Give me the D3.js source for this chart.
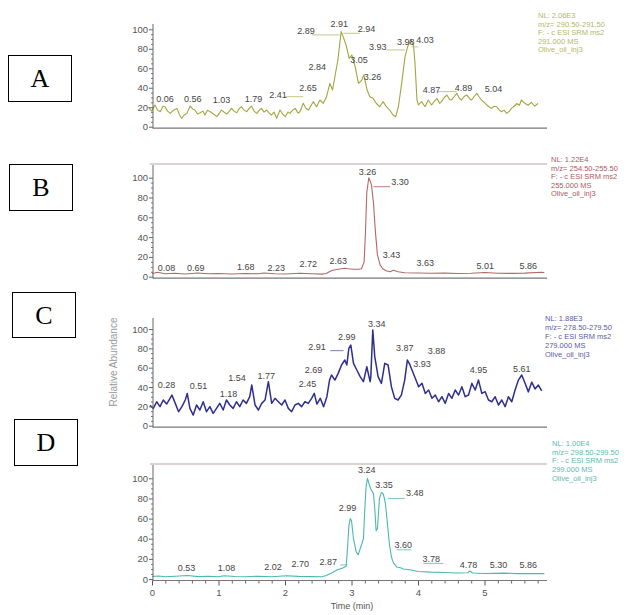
<!DOCTYPE html>
<html><head><meta charset="utf-8">
<script src="https://cdn.jsdelivr.net/npm/d3@7/dist/d3.min.js"></script>
<style>body{margin:0;background:#fff}svg{display:block}</style>
</head><body><svg id="chart" width="636" height="615"></svg>
<script>
// ---------- DATA ----------
const panelLetters = ["A", "B", "C", "D"];
const yTickValues = [0, 20, 40, 60, 80, 100];
const xTickValues = [0, 1, 2, 3, 4, 5];
const xAxisTitle = "Time (min)";
const yAxisTitle = "Relative Abundance";

// trace A : [time (min), relative abundance]
const traceA = [[0.02,20],[0.07,16],[0.12,22.3],[0.16,17],[0.2,15.4],[0.24,21],[0.27,20.5],[0.31,16],[0.35,13.7],[0.4,17],[0.45,18.8],[0.49,12],[0.52,8.6],[0.56,12],[0.6,13.7],[0.65,21.2],[0.69,18],[0.72,17.1],[0.76,13],[0.8,14.4],[0.84,16],[0.87,12],[0.91,17],[0.95,15.4],[1.0,13],[1.05,10.3],[1.09,14],[1.12,17.1],[1.16,15],[1.2,13],[1.24,16],[1.27,18.8],[1.31,16],[1.35,14.4],[1.39,19],[1.42,20.5],[1.46,17],[1.5,15.4],[1.54,19],[1.57,21.2],[1.61,16],[1.65,13.7],[1.69,17],[1.72,18.8],[1.76,15],[1.8,17.1],[1.84,14],[1.87,12],[1.91,15],[1.95,8.6],[2.0,17.1],[2.04,13],[2.08,10.3],[2.12,15],[2.15,13.7],[2.19,17],[2.23,18.8],[2.27,14],[2.3,15.4],[2.35,24],[2.39,19],[2.43,17.1],[2.47,22],[2.5,25.7],[2.55,20.5],[2.6,27.4],[2.65,24],[2.7,30.8],[2.75,44.5],[2.79,37.7],[2.83,53.1],[2.87,68.5],[2.92,97.6],[2.95,92.5],[3.0,82.2],[3.04,70.2],[3.08,73.6],[3.13,61.6],[3.18,44.5],[3.23,47.9],[3.26,53.1],[3.31,37.7],[3.35,30.8],[3.4,29.1],[3.45,23.8],[3.5,20.5],[3.55,25.7],[3.6,20.5],[3.65,17.1],[3.7,12],[3.74,10.3],[3.78,20.5],[3.83,44.5],[3.88,71.9],[3.92,82.2],[3.97,89.7],[4.01,82.2],[4.03,65.1],[4.06,27.4],[4.08,22.3],[4.13,25.7],[4.18,20.5],[4.23,27.4],[4.28,22.3],[4.32,26],[4.36,29.1],[4.4,24],[4.43,25.7],[4.47,30],[4.51,32.5],[4.55,28],[4.58,27.4],[4.62,31],[4.66,34.2],[4.7,29],[4.73,27.4],[4.77,31],[4.81,32.5],[4.85,29],[4.88,27.4],[4.92,31],[4.96,34.2],[5.0,30],[5.03,27.4],[5.07,25],[5.11,22.3],[5.15,20],[5.18,18.8],[5.22,21],[5.26,20.5],[5.3,17],[5.33,15.4],[5.37,17],[5.41,13.7],[5.45,16],[5.48,18.8],[5.52,21],[5.56,23.8],[5.6,22],[5.63,27.4],[5.68,24],[5.73,22],[5.78,25],[5.83,21],[5.88,24]];
const peaksA = [["0.06",0.27,29],["0.56",0.69,29],["1.03",1.12,27.4],["1.79",1.6,28.4],["2.41",1.97,33.2],["2.65",2.42,39.4],["2.84",2.56,61.6],["2.89",2.39,98.3],["2.91",2.89,106],["2.94",3.3,100],["3.05",3.19,68.5],["3.26",3.39,51.4],["3.93",3.47,82.2],["3.98",3.89,87.3],["4.03",4.18,89],["4.87",4.28,37.7],["4.89",4.76,40.4],["5.04",5.21,38.4]];
const leadersA = [[2.48,2.9,94.2],[2.95,3.2,95.9],[3.6,3.88,78.8],[3.98,4.08,82],[2.08,2.35,30.8],[4.38,4.66,36]];
const legendA = ["NL: 2.06E3","m/z= 290.50-291.50","F: - c ESI SRM ms2","291.000  MS","Olive_oil_inj3"];

// trace B
const traceB = [[0.0,3],[0.08,4.5],[0.2,3],[0.35,3.5],[0.5,2.8],[0.69,3.8],[0.85,3],[1.0,3.2],[1.2,2.8],[1.4,3.3],[1.6,3],[1.68,3.8],[1.85,3],[2.0,2.8],[2.23,3.5],[2.4,3],[2.55,2.6],[2.62,3.2],[2.68,5.5],[2.72,6.5],[2.8,7.5],[2.9,8.5],[2.95,8],[3.03,7.5],[3.1,7.6],[3.15,8],[3.19,15],[3.21,45],[3.23,85],[3.26,100],[3.3,93],[3.33,75],[3.36,45],[3.39,22],[3.43,12],[3.47,8],[3.52,6],[3.58,5],[3.63,6.5],[3.7,5],[3.8,4],[4.0,3.8],[4.2,3.5],[4.4,3.6],[4.6,3.3],[4.8,3.5],[5.01,4.2],[5.2,3.5],[5.4,3.4],[5.6,3.6],[5.86,4.5],[5.9,4.2]];
const peaksB = [["0.08",0.22,9.1],["0.69",0.66,9.1],["1.68",1.41,9.8],["2.23",1.87,9.1],["2.72",2.35,12.8],["2.63",2.8,16.2],["3.26",3.24,106],["3.30",3.73,96],["3.43",3.6,21.9],["3.63",4.11,13.5],["5.01",5.01,10.8],["5.86",5.66,10.8]];
const leadersB = [[3.33,3.58,90.9]];
const legendB = ["NL: 1.22E4","m/z= 254.50-255.50","F: - c ESI SRM ms2","255.000  MS","Olive_oil_inj3"];

// trace C
const traceC = [[0.0,21],[0.05,17.9],[0.1,24.8],[0.15,19.7],[0.2,26.6],[0.25,22.4],[0.29,27],[0.33,31.7],[0.38,23.1],[0.43,14.5],[0.48,19.7],[0.53,26.6],[0.56,33.4],[0.6,17.9],[0.65,11],[0.7,21.4],[0.75,16.2],[0.8,24.8],[0.85,14.5],[0.9,19.7],[0.95,12.8],[1.0,17.9],[1.05,23.1],[1.1,16.2],[1.15,26.6],[1.2,21.4],[1.25,17.9],[1.3,24.8],[1.35,19.7],[1.4,26.6],[1.45,23.1],[1.5,30],[1.53,42.1],[1.58,21.4],[1.63,16.2],[1.68,23.1],[1.73,26.6],[1.76,38],[1.78,45.5],[1.83,23.1],[1.88,28.3],[1.93,24.8],[1.98,21.4],[2.03,26.6],[2.08,17.9],[2.13,14.5],[2.18,21.4],[2.23,23.1],[2.28,19.7],[2.33,24.8],[2.38,23.1],[2.43,28.3],[2.47,33.4],[2.51,22.4],[2.56,28.3],[2.61,19.7],[2.66,30],[2.7,47.2],[2.73,52.4],[2.78,47.2],[2.83,54.1],[2.88,62.8],[2.93,67.9],[2.96,62.8],[2.99,80],[3.02,83.4],[3.06,64.5],[3.11,57.6],[3.16,50.7],[3.21,45.5],[3.26,61],[3.31,45.5],[3.32,50],[3.35,99],[3.38,71.4],[3.43,50.7],[3.48,43.8],[3.53,64.5],[3.58,62.8],[3.63,40.3],[3.68,28.3],[3.73,26.6],[3.78,31.7],[3.83,47.2],[3.87,67.9],[3.91,62.8],[3.98,50.7],[4.04,40.3],[4.09,43.8],[4.14,33.4],[4.19,36.9],[4.24,28.3],[4.29,31.7],[4.34,24.8],[4.39,30],[4.44,23.1],[4.49,33.4],[4.54,28.3],[4.59,36.9],[4.64,31.7],[4.69,40.3],[4.74,30],[4.79,31.7],[4.84,43.8],[4.89,36.9],[4.94,47.2],[4.99,33.4],[5.04,35.2],[5.09,26.6],[5.14,24.8],[5.19,30],[5.24,21.4],[5.29,26.6],[5.34,19.7],[5.39,30],[5.44,24.8],[5.49,36.9],[5.54,47.2],[5.59,52.4],[5.64,43.8],[5.69,35],[5.74,45],[5.79,38],[5.84,42],[5.89,36]];
const peaksC = [["0.28",0.25,42],["0.51",0.73,41],["1.18",1.18,33],["1.54",1.31,50],["1.77",1.75,52],["2.45",2.37,43],["2.69",2.46,58],["2.91",2.51,82],["2.99",2.96,92],["3.34",3.41,105],["3.87",3.83,80],["3.93",4.09,64],["3.88",4.31,77],["4.95",4.94,58],["5.61",5.59,59]];
const leadersC = [[2.71,2.91,77.6]];
const legendC = ["NL: 1.88E3","m/z= 278.50-279.50","F: - c ESI SRM ms2","279.000  MS","Olive_oil_inj3"];

// trace D
const traceD = [[0.0,2.5],[0.1,3],[0.2,2.2],[0.35,2.8],[0.53,3.5],[0.7,2.4],[0.85,2.8],[1.0,2.2],[1.08,3.2],[1.25,2.5],[1.4,2.3],[1.6,2.8],[1.8,2.3],[2.02,3.2],[2.2,2.6],[2.4,2.4],[2.55,2.2],[2.62,3.5],[2.7,6],[2.78,9],[2.87,11],[2.92,13],[2.94,30],[2.96,52],[2.98,60],[3.0,58],[3.03,40],[3.07,27],[3.1,24],[3.13,30],[3.16,36],[3.18,40],[3.2,70],[3.22,92],[3.24,100],[3.27,93],[3.3,88],[3.33,85],[3.35,70],[3.37,48],[3.39,50],[3.42,80],[3.45,86],[3.48,84],[3.51,75],[3.54,55],[3.57,35],[3.6,22],[3.63,16],[3.68,12],[3.75,11],[3.78,10],[3.9,9],[4.0,7.5],[4.2,6.8],[4.4,6.5],[4.6,6],[4.75,6.2],[4.78,8],[4.82,6],[5.0,5.5],[5.3,5.8],[5.5,5.3],[5.86,5.5],[5.9,5.3]];
const peaksD = [["0.53",0.52,10.6],["1.08",1.12,10.6],["2.02",1.82,12],["2.70",2.23,15.5],["2.87",2.65,17],["2.99",2.94,71],["3.24",3.23,108],["3.35",3.49,93],["3.48",3.95,86],["3.60",3.78,34],["3.78",4.2,20.5],["4.78",4.76,14],["5.30",5.21,14],["5.86",5.66,14]];
const leadersD = [[2.83,2.94,14],[3.55,3.8,80],[3.68,3.9,29],[4.08,4.38,15.5]];
const legendD = ["NL: 1.00E4","m/z= 298.50-299.50","F: - c ESI SRM ms2","299.000  MS","Olive_oil_inj3"];

// ---------- LAYOUT / STYLE ----------
const svg = d3.select("#chart");
const font = "'Liberation Sans', Arial, sans-serif";
const panels = [
  {trace: traceA, peaks: peaksA, leaders: leadersA, legend: legendA, color: "#a2a63e", legColor: "#b4b86a", lw: 1.1,
   x0: 147, y0: 126.7, y100: 29.3, axisTop: 24, frame: false, box: [8, 55, 63, 46], legX: 538, legY: 18, legDy: 8.6},
  {trace: traceB, peaks: peaksB, leaders: leadersB, legend: legendB, color: "#b26868", legColor: "#b0585e", lw: 1.1,
   x0: 152, y0: 276.7, y100: 177.7, axisTop: 165, frame: true, box: [9, 164, 63, 46], legX: 551, legY: 162, legDy: 8.6},
  {trace: traceC, peaks: peaksC, leaders: leadersC, legend: legendC, color: "#2e2e8c", legColor: "#5a5aa8", lw: 1.5,
   x0: 150, y0: 425.7, y100: 329, axisTop: 318, frame: false, box: [12, 292, 63, 45], legX: 545, legY: 321, legDy: 9.1},
  {trace: traceD, peaks: peaksD, leaders: leadersD, legend: legendD, color: "#4cb8ae", legColor: "#5cbab0", lw: 1.1,
   x0: 152, y0: 579, y100: 478.3, axisTop: 465, frame: true, box: [14, 419, 63, 46], legX: 552, legY: 446, legDy: 8.7}
];
const pxPerMin = 66.5, xMax = 5.9, axisX = 153, rightEdge = 547;

panels.forEach((p, i) => {
  const x = d3.scaleLinear().domain([0, xMax]).range([p.x0, p.x0 + xMax * pxPerMin]);
  const y = d3.scaleLinear().domain([0, 100]).range([p.y0, p.y100]);
  const g = svg.append("g");

  // letter box
  g.append("rect").attr("x", p.box[0] + 0.5).attr("y", p.box[1] + 0.5).attr("width", p.box[2]).attr("height", p.box[3])
    .attr("fill", "#fff").attr("stroke", "#000").attr("stroke-width", 1);
  g.append("text").attr("x", p.box[0] + p.box[2] / 2 + 0.5).attr("y", p.box[1] + p.box[3] / 2 + 9)
    .attr("text-anchor", "middle").attr("font-family", "'Liberation Serif', 'Times New Roman', serif")
    .attr("font-size", 26).attr("fill", "#000").text(panelLetters[i]);

  // top frame
  if (p.frame) {
    g.append("line").attr("x1", axisX - 3).attr("x2", rightEdge).attr("y1", p.axisTop - 1).attr("y2", p.axisTop - 1)
      .attr("stroke", "#b8a8a8").attr("stroke-width", 1.2);
  }

  // trace
  const line = d3.line().x(d => x(d[0])).y(d => y(d[1]));
  g.append("path").datum(p.trace).attr("d", line).attr("fill", "none")
    .attr("stroke", p.color).attr("stroke-width", p.lw).attr("stroke-linejoin", "round");

  // y axis
  const minor = d3.range(0, 101, 5).filter(v => v % 20 !== 0);
  const yAxisG = g.append("g").attr("transform", `translate(${axisX},0)`);
  yAxisG.call(d3.axisLeft(y).tickValues(yTickValues).tickSize(4).tickFormat(d3.format("d")));
  yAxisG.select(".domain").remove();
  yAxisG.selectAll("text").attr("font-family", font).attr("font-size", 9.5).attr("fill", "#555").attr("x", -5);
  yAxisG.selectAll("line").attr("stroke", "#666");
  const yMinor = g.append("g").attr("transform", `translate(${axisX},0)`);
  yMinor.call(d3.axisLeft(y).tickValues(minor).tickSize(2).tickFormat(""));
  yMinor.select(".domain").remove();
  yMinor.selectAll("line").attr("stroke", "#777");
  g.append("line").attr("x1", axisX).attr("x2", axisX).attr("y1", p.axisTop).attr("y2", p.y0 + 2)
    .attr("stroke", "#666").attr("stroke-width", 1);

  // x axis
  const xAxisY = p.y0 + 1.5;
  if (i === 3) {
    const xs = d3.scaleLinear().domain([0, xMax]).range([axisX - 1, axisX - 1 + xMax * pxPerMin]);
    const xa = g.append("g").attr("transform", `translate(0,${xAxisY})`);
    xa.call(d3.axisBottom(xs).tickValues(xTickValues).tickSize(5).tickFormat(d3.format("d")));
    xa.select(".domain").remove();
    xa.selectAll("line").attr("stroke", "#555");
    xa.selectAll("text").attr("font-family", font).attr("font-size", 9.5).attr("fill", "#555").attr("y", 9);
    const xm = g.append("g").attr("transform", `translate(0,${xAxisY})`);
    xm.call(d3.axisBottom(xs).tickValues(d3.range(0.2, 5.81, 0.2).filter(v => Math.abs(v - Math.round(v)) > 0.05)).tickSize(3).tickFormat(""));
    xm.select(".domain").remove();
    xm.selectAll("line").attr("stroke", "#666");
    g.append("text").attr("x", 352).attr("y", 609).attr("text-anchor", "middle")
      .attr("font-family", font).attr("font-size", 9).attr("fill", "#555").text(xAxisTitle);
  }
  g.append("line").attr("x1", axisX).attr("x2", rightEdge).attr("y1", xAxisY).attr("y2", xAxisY)
    .attr("stroke", "#777").attr("stroke-width", 1.2);

  // leaders
  g.selectAll(".ld").data(p.leaders).join("line")
    .attr("x1", d => x(d[0])).attr("x2", d => x(d[1])).attr("y1", d => y(d[2])).attr("y2", d => y(d[2]))
    .attr("stroke", p.legColor).attr("stroke-width", 0.8);

  // peak labels
  g.selectAll(".pk").data(p.peaks).join("text")
    .attr("x", d => x(d[1])).attr("y", d => y(d[2])).attr("dy", "0.35em").attr("text-anchor", "middle")
    .attr("font-family", font).attr("font-size", 9).attr("fill", "#444").text(d => d[0]);

  // legend
  g.selectAll(".lg").data(p.legend).join("text")
    .attr("x", p.legX).attr("y", (d, k) => p.legY + k * p.legDy)
    .attr("font-family", font).attr("font-size", 7.5).attr("fill", p.legColor).text(d => d);
});

// y axis title (panel C)
svg.append("text").attr("transform", "translate(117,362) rotate(-90)").attr("text-anchor", "middle")
  .attr("font-family", font).attr("font-size", 10).attr("fill", "#9a9a9a").text(yAxisTitle);
</script></body></html>
